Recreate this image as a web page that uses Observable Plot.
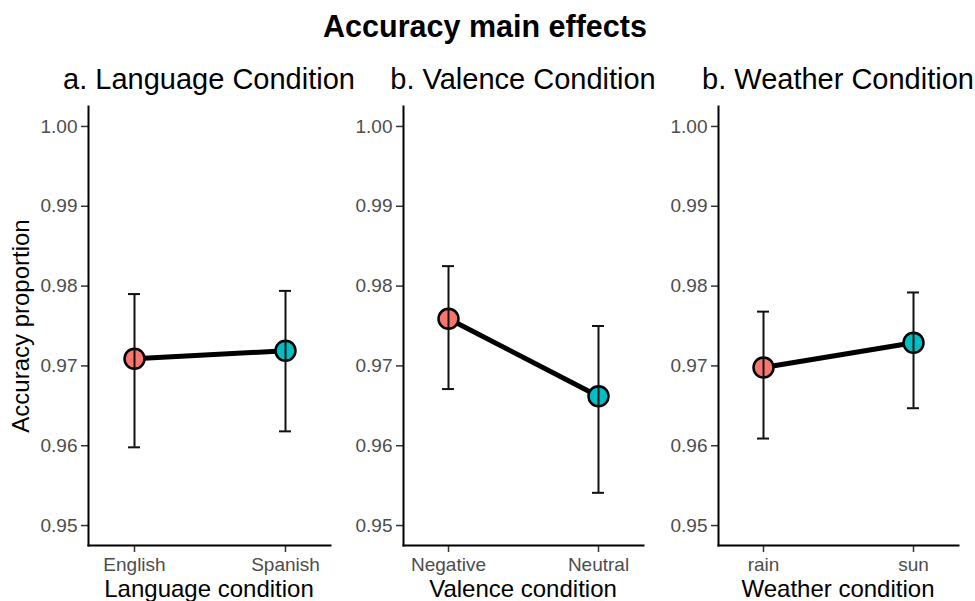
<!DOCTYPE html>
<html>
<head>
<meta charset="utf-8">
<script src="https://cdn.jsdelivr.net/npm/d3@7"></script>
<script src="https://cdn.jsdelivr.net/npm/@observablehq/plot@0.6"></script>
<style>
  html, body { margin: 0; padding: 0; background: #fff; }
  #chart { position: relative; width: 975px; height: 601px; overflow: hidden; font-family: "Liberation Sans", Arial, sans-serif; color: #000; }
  .txt { position: absolute; line-height: 1; white-space: nowrap; text-align: center; }
  .panel { position: absolute; top: 100px; }
</style>
</head>
<body>
<div id="chart"></div>
<script>
// ---- data ----
const chartTitle = "Accuracy main effects";
const yLabel = "Accuracy proportion";
const yTicks = [0.95, 0.96, 0.97, 0.98, 0.99, 1.00];
const yDomain = [0.9475, 1.0025];

const languageCats = ["English", "Spanish"];
const languageMean = [0.9709, 0.9719];
const languageLow  = [0.9598, 0.9618];
const languageHigh = [0.9790, 0.9794];

const valenceCats = ["Negative", "Neutral"];
const valenceMean = [0.9759, 0.9662];
const valenceLow  = [0.9671, 0.9541];
const valenceHigh = [0.9825, 0.9750];

const weatherCats = ["rain", "sun"];
const weatherMean = [0.9698, 0.9729];
const weatherLow  = [0.9609, 0.9647];
const weatherHigh = [0.9768, 0.9792];

const panelTitles = ["a. Language Condition", "b. Valence Condition", "b. Weather Condition"];
const xLabels = ["Language condition", "Valence condition", "Weather condition"];
const pointColors = ["#F8766D", "#00BFC4"];

// ---- layout ----
const chart = document.getElementById("chart");
const FONT = "'Liberation Sans', Arial, sans-serif";
const ML = 60, MR = 1, MT = 6, MB = 56, H = 501, TOP = 100;
const panelGeom = [
  {axisX: 88, innerW: 242},
  {axisX: 403, innerW: 240},
  {axisX: 718, innerW: 240}
];
const series = [
  [languageCats, languageMean, languageLow, languageHigh],
  [valenceCats, valenceMean, valenceLow, valenceHigh],
  [weatherCats, weatherMean, weatherLow, weatherHigh]
];

function addText(str, {cx, baseline, size, weight = "normal", rotate = false, width = 400}) {
  const d = document.createElement("div");
  d.className = "txt";
  d.textContent = str;
  d.style.fontSize = size + "px";
  d.style.fontWeight = weight;
  d.style.width = width + "px";
  d.style.height = size + "px";
  if (!rotate) {
    d.style.left = (cx - width / 2) + "px";
    d.style.top = (baseline - 0.8465 * size) + "px";
  } else {
    const centerX = baseline - (0.8465 * size - size / 2);
    d.style.left = (centerX - width / 2) + "px";
    d.style.top = (cx - size / 2) + "px";
    d.style.transform = "rotate(-90deg)";
  }
  chart.appendChild(d);
}

addText(chartTitle, {cx: 485, baseline: 37, size: 30.5, weight: "bold", width: 500});
addText(yLabel, {cx: 326, baseline: 29, size: 24, rotate: true, width: 300});

series.forEach(([cats, mean, low, high], p) => {
  const g = panelGeom[p];
  const rows = cats.map((c, i) => ({cat: c, mean: mean[i], low: low[i], high: high[i]}));
  const svg = Plot.plot({
    width: ML + g.innerW + MR,
    height: H,
    marginLeft: ML, marginRight: MR, marginTop: MT, marginBottom: MB,
    style: {fontFamily: FONT, background: "transparent", overflow: "visible"},
    x: {type: "point", domain: cats, padding: 0.3},
    y: {domain: yDomain},
    color: {domain: cats, range: pointColors},
    marks: [
      Plot.axisY({ticks: yTicks, tickFormat: d3.format(".2f"), tickSize: 7, tickPadding: 4, fontSize: 19, fill: "#4d4d4d", stroke: "#333", strokeWidth: 1.5, label: null}),
      Plot.axisX({tickSize: 7, tickPadding: 5, fontSize: 19, fill: "#4d4d4d", stroke: "#333", strokeWidth: 1.5, label: null}),
      Plot.frame({anchor: "left", stroke: "#000", strokeWidth: 2}),
      Plot.frame({anchor: "bottom", stroke: "#000", strokeWidth: 2}),
      Plot.line(rows, {x: "cat", y: "mean", stroke: "#000", strokeWidth: 5}),
      Plot.dot(rows, {x: "cat", y: "mean", r: 10, fill: "cat", stroke: "#000", strokeWidth: 2.5}),
      Plot.ruleX(rows, {x: "cat", y1: "low", y2: "high", stroke: "#111", strokeWidth: 2}),
      Plot.ruleY(rows, {x1: "cat", x2: "cat", y: "high", insetLeft: -6, insetRight: -6, stroke: "#111", strokeWidth: 2}),
      Plot.ruleY(rows, {x1: "cat", x2: "cat", y: "low", insetLeft: -6, insetRight: -6, stroke: "#111", strokeWidth: 2})
    ]
  });
  svg.classList.add("panel");
  svg.style.left = (g.axisX - ML) + "px";
  svg.style.top = TOP + "px";
  svg.style.position = "absolute";
  chart.appendChild(svg);

  const cx = g.axisX + g.innerW / 2;
  addText(panelTitles[p], {cx, baseline: 90, size: 29, width: 340});
  addText(xLabels[p], {cx, baseline: 597, size: 24, width: 300});
});
</script>
</body>
</html>
